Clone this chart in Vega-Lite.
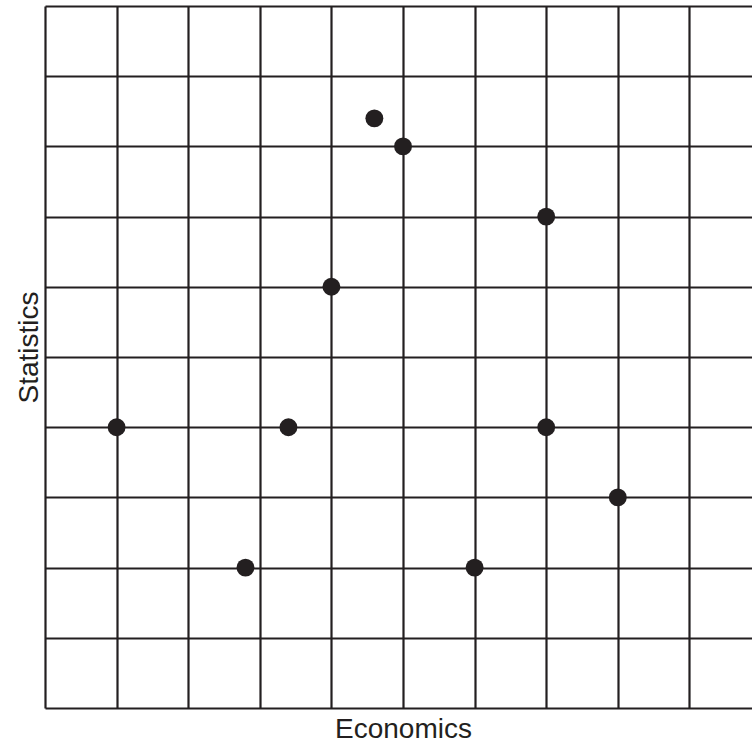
{
  "$schema": "https://vega.github.io/schema/vega-lite/v6.json",
  "autosize": {"type": "none"},
  "padding": {"left": 45, "top": 6, "right": 0, "bottom": 36},
  "width": 707,
  "height": 702,
  "background": "white",
  "config": {
    "view": {"stroke": null},
    "font": "Liberation Sans"
  },
  "data": {
    "values": [
      {"Economics": 4.6, "Statistics": 8.4},
      {"Economics": 5, "Statistics": 8},
      {"Economics": 7, "Statistics": 7},
      {"Economics": 4, "Statistics": 6},
      {"Economics": 1, "Statistics": 4},
      {"Economics": 3.4, "Statistics": 4},
      {"Economics": 7, "Statistics": 4},
      {"Economics": 8, "Statistics": 3},
      {"Economics": 2.8, "Statistics": 2},
      {"Economics": 6, "Statistics": 2}
    ]
  },
  "mark": {"type": "point", "filled": true, "opacity": 1, "color": "#231f20", "size": 320, "shape": "circle"},
  "encoding": {
    "x": {
      "field": "Economics",
      "type": "quantitative",
      "scale": {"domain": [0, 9.874], "nice": false, "zero": false},
      "axis": {
        "values": [0, 1, 2, 3, 4, 5, 6, 7, 8, 9],
        "labels": false, "ticks": false, "domain": false,
        "grid": true, "gridColor": "#231f20", "gridWidth": 2.2, "gridOpacity": 1,
        "title": "Economics", "titleFont": "Liberation Sans", "titleFontSize": 28,
        "titleFontWeight": "normal", "titleColor": "#231f20", "titlePadding": 7,
        "titleX": 358
      }
    },
    "y": {
      "field": "Statistics",
      "type": "quantitative",
      "scale": {"domain": [0, 10], "nice": false, "zero": false},
      "axis": {
        "values": [0, 1, 2, 3, 4, 5, 6, 7, 8, 9, 10],
        "labels": false, "ticks": false, "domain": false,
        "grid": true, "gridColor": "#231f20", "gridWidth": 2.2, "gridOpacity": 1,
        "title": "Statistics", "titleFont": "Liberation Sans", "titleFontSize": 28,
        "titleFontWeight": "normal", "titleColor": "#231f20", "titlePadding": 2,
        "titleY": 341
      }
    }
  }
}
